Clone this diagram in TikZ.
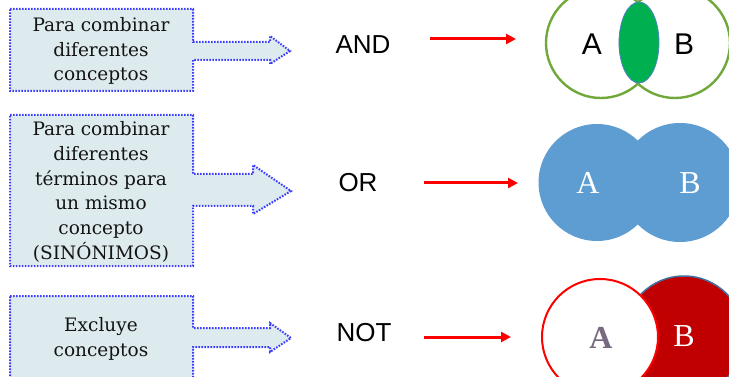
\documentclass[tikz,border=0pt]{standalone}
\usepackage{fontspec}
\setmainfont{DejaVu Serif}
\newfontfamily\labelfont{Liberation Sans}
\newfontfamily\setfont{Liberation Serif}
\usetikzlibrary{arrows.meta}

\definecolor{boxfill}{RGB}{221,234,238}
\definecolor{boxline}{RGB}{60,60,255}
\definecolor{textgray}{RGB}{20,20,20}
\definecolor{vennGreen}{RGB}{112,168,58}
\definecolor{lensGreen}{RGB}{0,176,80}
\definecolor{lensEdge}{RGB}{80,130,200}
\definecolor{orBlue}{RGB}{94,157,209}
\definecolor{notRed}{RGB}{192,0,0}
\definecolor{notEdge}{RGB}{65,113,156}
\definecolor{letterGray}{RGB}{118,106,128}

\tikzset{
  blockarrow/.style={fill=boxfill, draw=boxline, line width=2pt,
    dash pattern=on 1.6pt off 1.4pt, line join=miter},
  boxtext/.style={text=textgray, align=center,
    font=\fontsize{18.5}{24.8}\selectfont, inner sep=0pt},
  oplabel/.style={font=\labelfont\fontsize{26}{30}\selectfont, inner sep=0pt},
  redarrow/.style={draw=red, line width=3pt,
    -{Triangle[length=10pt,width=10pt]}},
  sansletter/.style={font=\labelfont\fontsize{30}{34}\selectfont, inner sep=0pt},
  serifletter/.style={font=\setfont\fontsize{32}{36}\selectfont, inner sep=0pt},
}

\begin{document}
\begin{tikzpicture}[x=1pt,y=-1pt]
\path[use as bounding box] (0,0) rectangle (729,377);
\clip (0,0) rectangle (729,377);

% ---- block arrows with their descriptions ----
\path[blockarrow] (10,9) -- (193,9) -- (193,42) -- (270,42) -- (270,36)
  -- (290,51) -- (270,64) -- (270,60) -- (193,60) -- (193,91) -- (10,91) -- cycle;
\node[boxtext] (desc1) at (101,51) {Para combinar\\diferentes\\conceptos};

\path[blockarrow] (10,115) -- (193,115) -- (193,174) -- (253,174) -- (253,165)
  -- (291,191) -- (253,214) -- (253,206) -- (193,206) -- (193,266) -- (10,266) -- cycle;
\node[boxtext] (desc2) at (101,192)
  {Para combinar\\diferentes\\términos para\\un mismo\\concepto\\(SINÓNIMOS)};

\path[blockarrow] (10,296) -- (193,296) -- (193,328) -- (270,328) -- (270,323)
  -- (291,338) -- (270,352) -- (270,347) -- (193,347) -- (193,385) -- (10,385) -- cycle;
\node[boxtext] (desc3) at (101,339) {Excluye\\conceptos};

% ---- operator names ----
\node[oplabel] (and) at (363,45) {AND};
\node[oplabel] (or)  at (358,183) {OR};
\node[oplabel] (not) at (364,333) {NOT};

% ---- red arrows ----
\coordinate (r1s) at (430,39);  \coordinate (r1e) at (516,39);
\coordinate (r2s) at (424,183); \coordinate (r2e) at (518,183);
\coordinate (r3s) at (424,337); \coordinate (r3e) at (511,337);
\draw[redarrow] (r1s) -- (r1e);
\draw[redarrow] (r2s) -- (r2e);
\draw[redarrow] (r3s) -- (r3e);

% ---- AND: intersection ----
\draw[vennGreen, line width=2.4pt] (601,43) circle[radius=55];
\draw[vennGreen, line width=2.4pt] (675,43) circle[radius=55];
\fill[lensGreen, draw=lensEdge, line width=0.8pt] (639,42.5) ellipse[x radius=20, y radius=40.5];
\node[sansletter] (andA) at (592,44) {A};
\node[sansletter] (andB) at (684,44) {B};

% ---- OR: union ----
\fill[orBlue] (597,182.5) circle[radius=58.5];
\fill[orBlue] (680,182.5) circle[radius=59.5];
\node[serifletter, text=white] (orA) at (588,183) {A};
\node[serifletter, text=white] (orB) at (690,183) {B};

% ---- NOT: exclusion ----
\fill[notRed, draw=notEdge, line width=1.5pt] (684,336) circle[radius=60];
\fill[white, draw=red, line width=2pt] (600,337) circle[radius=58];
\node[serifletter, font=\setfont\bfseries\fontsize{32}{36}\selectfont, text=letterGray] (notA) at (601,338) {A};
\node[serifletter, text=white] (notB) at (684,336) {B};
\end{tikzpicture}
\end{document}
